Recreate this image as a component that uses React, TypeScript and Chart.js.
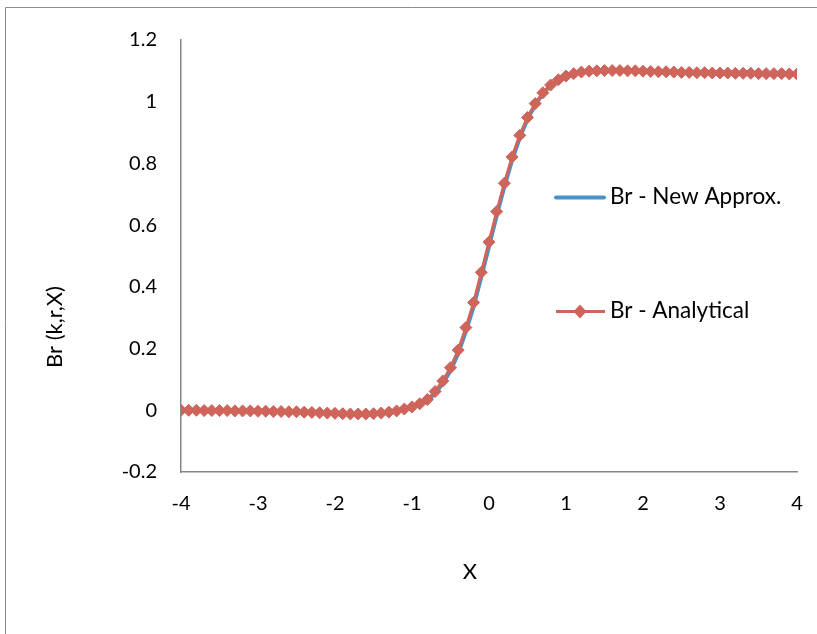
import { useEffect, useRef } from "react";
import { Chart, registerables } from "chart.js";

Chart.register(...registerables);

const FONT = "Lato, 'Liberation Sans', sans-serif";

const xValues = [
  -4, -3.9, -3.8, -3.7, -3.6, -3.5, -3.4, -3.3, -3.2, -3.1,
  -3, -2.9, -2.8, -2.7, -2.6, -2.5, -2.4, -2.3, -2.2, -2.1,
  -2, -1.9, -1.8, -1.7, -1.6, -1.5, -1.4, -1.3, -1.2, -1.1,
  -1, -0.9, -0.8, -0.7, -0.6, -0.5, -0.4, -0.3, -0.2, -0.1,
  0, 0.1, 0.2, 0.3, 0.4, 0.5, 0.6, 0.7, 0.8, 0.9,
  1, 1.1, 1.2, 1.3, 1.4, 1.5, 1.6, 1.7, 1.8, 1.9,
  2, 2.1, 2.2, 2.3, 2.4, 2.5, 2.6, 2.7, 2.8, 2.9,
  3, 3.1, 3.2, 3.3, 3.4, 3.5, 3.6, 3.7, 3.8, 3.9,
  4,
];

const analytical = [
  0, 0, 0, -0.001, -0.001, -0.001, -0.001, -0.002, -0.002, -0.002,
  -0.003, -0.003, -0.004, -0.004, -0.005, -0.005, -0.006, -0.007, -0.008, -0.009,
  -0.01, -0.011, -0.012, -0.012, -0.012, -0.011, -0.009, -0.006, -0.002, 0.004,
  0.011, 0.021, 0.035, 0.061, 0.095, 0.138, 0.195, 0.268, 0.349, 0.447,
  0.545, 0.644, 0.736, 0.821, 0.891, 0.949, 0.994, 1.029, 1.054, 1.071,
  1.083, 1.091, 1.096, 1.099, 1.1, 1.101, 1.101, 1.101, 1.1, 1.1,
  1.099, 1.098, 1.097, 1.097, 1.096, 1.095, 1.095, 1.094, 1.094, 1.093,
  1.093, 1.093, 1.092, 1.092, 1.092, 1.091, 1.091, 1.091, 1.091, 1.09,
  1.09,
];

const newApprox = [
  0, 0, 0, -0.001, -0.001, -0.001, -0.001, -0.002, -0.002, -0.002,
  -0.003, -0.003, -0.004, -0.004, -0.005, -0.005, -0.006, -0.007, -0.008, -0.009,
  -0.01, -0.011, -0.012, -0.012, -0.012, -0.011, -0.009, -0.006, -0.002, 0.003,
  0.009, 0.018, 0.031, 0.055, 0.087, 0.128, 0.184, 0.256, 0.336, 0.433,
  0.531, 0.631, 0.725, 0.811, 0.884, 0.943, 0.99, 1.026, 1.052, 1.069,
  1.082, 1.091, 1.096, 1.099, 1.1, 1.101, 1.101, 1.101, 1.1, 1.1,
  1.099, 1.098, 1.097, 1.097, 1.096, 1.095, 1.095, 1.094, 1.094, 1.093,
  1.093, 1.093, 1.092, 1.092, 1.092, 1.091, 1.091, 1.091, 1.091, 1.09,
  1.09,
];

const seriesNames = ["Br - New Approx.", "Br - Analytical"];
const xTitle = "X";
const yTitle = "Br (k,r,X)";

const BLUE = "#4A90C9";
const RED = "#CF645B";
const AXIS = "#868686";

export default function App() {
  const ref = useRef<HTMLCanvasElement>(null);

  useEffect(() => {
    if (!ref.current) return;

    const overlay = {
      id: "overlay",
      beforeDraw(chart: any) {
        const ctx = chart.ctx;
        ctx.save();
        ctx.fillStyle = "#fff";
        ctx.fillRect(0, 0, chart.width, chart.height);
        ctx.strokeStyle = "#8c8c8c";
        ctx.lineWidth = 1;
        ctx.beginPath();
        ctx.moveTo(5.5, chart.height);
        ctx.lineTo(5.5, 7.5);
        ctx.lineTo(chart.width, 7.5);
        ctx.stroke();
        ctx.restore();
      },
      afterDraw(chart: any) {
        const ctx = chart.ctx;
        ctx.save();
        ctx.fillStyle = "#000";
        ctx.font = `22.5px ${FONT}`;
        ctx.textBaseline = "middle";
        // legend
        ctx.lineCap = "round";
        ctx.strokeStyle = BLUE;
        ctx.lineWidth = 4;
        ctx.beginPath();
        ctx.moveTo(556, 197.5);
        ctx.lineTo(604, 197.5);
        ctx.stroke();
        ctx.textAlign = "left";
        ctx.fillText(seriesNames[0], 610, 197);

        ctx.lineCap = "butt";
        ctx.strokeStyle = RED;
        ctx.lineWidth = 3;
        ctx.beginPath();
        ctx.moveTo(556, 311.5);
        ctx.lineTo(605, 311.5);
        ctx.stroke();
        ctx.fillStyle = RED;
        ctx.beginPath();
        ctx.moveTo(580, 304.5);
        ctx.lineTo(586.5, 311.5);
        ctx.lineTo(580, 318.5);
        ctx.lineTo(573.5, 311.5);
        ctx.closePath();
        ctx.fill();
        ctx.fillStyle = "#000";
        ctx.fillText(seriesNames[1], 610, 311);

        // axis titles
        ctx.font = `22px ${FONT}`;
        ctx.textAlign = "center";
        ctx.fillText(xTitle, 470, 572);
        ctx.translate(55, 327);
        ctx.rotate(-Math.PI / 2);
        ctx.fillText(yTitle, 0, 0);
        ctx.restore();
      },
    };

    const chart = new Chart(ref.current, {
      type: "scatter",
      data: {
        datasets: [
          {
            label: seriesNames[1],
            data: xValues.map((x, i) => ({ x, y: analytical[i] })),
            showLine: true,
            borderColor: RED,
            backgroundColor: RED,
            borderWidth: 3,
            pointStyle: "rectRot",
            pointRadius: 6,
            pointBorderWidth: 1,
            pointBackgroundColor: RED,
            pointBorderColor: RED,
            order: 0,
          },
          {
            label: seriesNames[0],
            data: xValues.map((x, i) => ({ x, y: newApprox[i] })),
            showLine: true,
            borderColor: BLUE,
            backgroundColor: BLUE,
            borderWidth: 4,
            pointRadius: 0,
            order: 1,
          },
        ],
      },
      options: {
        responsive: false,
        animation: false,
        layout: { padding: { top: 40, right: 20, bottom: 0, left: 0 } },
        plugins: {
          legend: { display: false },
          tooltip: { enabled: false },
        },
        scales: {
          x: {
            type: "linear",
            position: "bottom",
            min: -4,
            max: 4,
            grid: { display: false, drawTicks: false },
            border: { display: true, color: AXIS, width: 1.5 },
            ticks: {
              stepSize: 1,
              color: "#000",
              font: { family: FONT, size: 20 },
              padding: 20,
              maxRotation: 0,
              callback: (v: any) => String(v),
            },
            afterFit: (s: any) => {
              s.height = 634 - 472;
              s.paddingLeft = 0;
              s.paddingRight = 0;
            },
          },
          y: {
            type: "linear",
            min: -0.2,
            max: 1.2,
            grid: { display: false, drawTicks: false },
            border: { display: true, color: AXIS, width: 1.5 },
            ticks: {
              stepSize: 0.2,
              color: "#000",
              font: { family: FONT, size: 20 },
              padding: 24,
              callback: (v: any) => String(Number(Number(v).toFixed(1))),
            },
            afterFit: (s: any) => {
              s.width = 181;
              s.paddingTop = 0;
              s.paddingBottom = 0;
            },
          },
        },
      },
      plugins: [overlay],
    });

    return () => chart.destroy();
  }, []);

  return (
    <div style={{ position: "fixed", left: 0, top: 0, width: 817, height: 634, background: "#fff" }}>
      <canvas ref={ref} width={817} height={634} style={{ display: "block", width: 817, height: 634 }} />
    </div>
  );
}
